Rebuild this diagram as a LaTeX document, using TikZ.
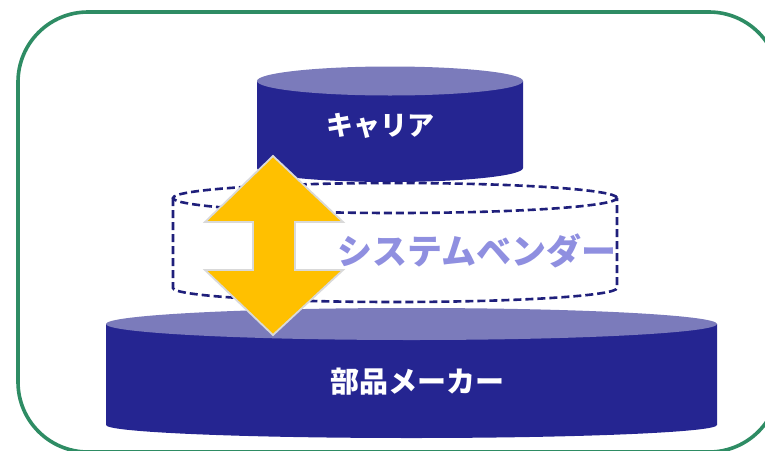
\documentclass[tikz,border=0pt]{standalone}
\usepackage{fontspec}
\newfontfamily\jpfont{Noto Sans CJK JP}
\usepackage{tikz}

\definecolor{navy}{RGB}{37,37,145}
\definecolor{navytop}{RGB}{123,123,187}
\definecolor{vendortext}{RGB}{143,143,224}
\definecolor{framegreen}{RGB}{46,140,100}
\definecolor{arrowgold}{RGB}{255,192,0}

\begin{document}
\begin{tikzpicture}[
    x=1pt, y=-1pt,
    frame/.style={draw=framegreen, line width=3.6pt, rounded corners=70pt},
    cylbody/.style={fill=navy},
    cyltop/.style={fill=navytop},
    dashline/.style={draw=navy!85!black, line width=2.6pt, dash pattern=on 8pt off 4pt},
    bigarrow/.style={fill=arrowgold, draw=black!15, line width=1.8pt, line join=miter},
    label/.style={font=\jpfont\bfseries, text=white, inner sep=0pt}
]

\useasboundingbox (0,0) rectangle (765,450);
\clip (0,0) rectangle (765,450);

% Outer frame
\draw[frame] (18,12) rectangle (779,452);

% Bottom cylinder (maker)
\path[cylbody] (106,324) -- (106,425)
    arc[start angle=180, end angle=360, x radius=305.5pt, y radius=13pt]
    -- (717,324) -- cycle;
\path[cyltop] (411.5,324) ellipse [x radius=305.5pt, y radius=16pt];

% Top cylinder (carrier)
\path[cylbody] (257,81) -- (257,168)
    arc[start angle=180, end angle=360, x radius=133pt, y radius=14pt]
    -- (523,81) -- cycle;
\path[cyltop] (390,81) ellipse [x radius=133pt, y radius=14.5pt];

% Middle cylinder (vendor), dashed
\draw[dashline] (395,198) ellipse [x radius=222pt, y radius=15pt];
\draw[dashline] (173,198) -- (173,288)
    arc[start angle=180, end angle=360, x radius=222pt, y radius=14pt]
    -- (617,198);

% Labels
\node[label, font=\jpfont\bfseries\fontsize{27}{30}\selectfont] (carrier) at (380,126) {キャリア};
\node[label, font=\jpfont\bfseries\fontsize{29}{32}\selectfont] (maker) at (417,382) {部品メーカー};
\node[label, text=vendortext, font=\jpfont\bfseries\fontsize{35}{38}\selectfont] (vendor) at (477,251) {システムベンダー};

% Double arrow
\path[bigarrow] (273,156) -- (343,222) -- (295,222) -- (295,270) -- (343,270)
    -- (273,335) -- (205,270) -- (253,270) -- (253,222) -- (205,222) -- cycle;

\end{tikzpicture}
\end{document}
